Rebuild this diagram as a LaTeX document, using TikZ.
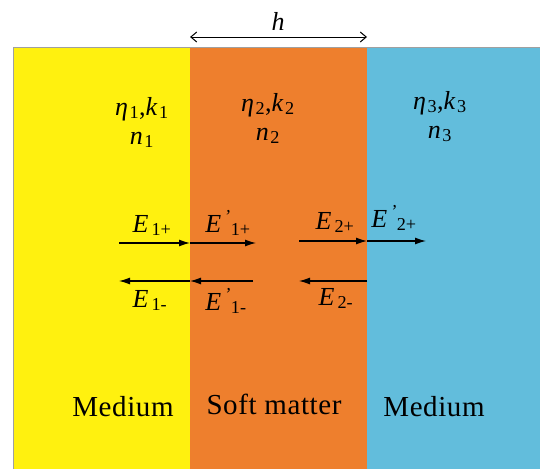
\documentclass[tikz,border=0pt]{standalone}
\usepackage{fontspec}
\setmainfont{Liberation Serif}
\newfontfamily\labelfont[LetterSpace=2]{Liberation Serif}
\usetikzlibrary{arrows.meta, positioning}
\definecolor{MediumYellow}{HTML}{FFF10F}
\definecolor{SoftOrange}{HTML}{EE7F2D}
\definecolor{MediumBlue}{HTML}{62BDDC}
\definecolor{EdgeGrey}{HTML}{A0A0A0}

\newcommand{\fld}[2]{\textit{E}#1\textsubscript{#2}}
\newcommand{\sbs}[1]{\kern1.5pt\textsubscript{#1}}

\begin{document}
\begin{tikzpicture}[x=1pt, y=-1pt, >={Latex[length=11pt,width=7pt]}]
    \tikzstyle{param} = [anchor=base, inner sep=0pt, align=center, font=\fontsize{26}{29}\selectfont]
    \tikzstyle{wavelabel} = [anchor=base, inner sep=0pt, font=\fontsize{26}{30}\selectfont]
    \tikzstyle{medlabel} = [anchor=base, inner sep=0pt, font=\fontsize{29}{32}\labelfont]
    \tikzstyle{ray} = [draw, ->, line width=1.2pt, black]

    \useasboundingbox (0,0) rectangle (540,469);

    % layers
    \fill [MediumYellow] (13,47) rectangle (190,469);
    \fill [SoftOrange] (190,47) rectangle (367,469);
    \fill [MediumBlue] (367,47) rectangle (540,469);
    \draw [EdgeGrey, line width=0.6pt] (13,469) -- (13,47) -- (540,47);

    % thickness
    \coordinate (hl) at (190,37);
    \coordinate (hr) at (367,37);
    \draw [{Straight Barb[length=6pt,width=10pt]}-{Straight Barb[length=6pt,width=10pt]}, line width=1pt] (hl) -- (hr);
    \node [param] (h) at (278,30) {\textit{h}};

    % parameters (base = second line)
    \node [param] (p1) at (142,144) {\textit{η}\sbs{1},\textit{k}\sbs{1}\\\textit{n}\sbs{1}};
    \node [param] (p2) at (268,140) {\textit{η}\sbs{2},\textit{k}\sbs{2}\\\textit{n}\sbs{2}};
    \node [param] (p3) at (440,138) {\textit{η}\sbs{3},\textit{k}\sbs{3}\\\textit{n}\sbs{3}};

    % waves
    \coordinate (a1) at (119,243);
    \coordinate (a2) at (190,243);
    \coordinate (a3) at (256,243);
    \coordinate (b1) at (299,241);
    \coordinate (b2) at (367,241);
    \coordinate (b3) at (426,241);
    \coordinate (c1) at (119,281);
    \coordinate (c2) at (190,281);
    \coordinate (c3) at (253,281);
    \coordinate (d1) at (299,281);
    \coordinate (d2) at (367,281);

    \path [ray] (a1) -- (a2);
    \path [ray] (a2) -- (a3);
    \path [ray] (b1) -- (b2);
    \path [ray] (b2) -- (b3);
    \path [ray] (c2) -- (c1);
    \path [ray] (c3) -- (c2);
    \path [ray] (d2) -- (d1);

    \node [wavelabel] (e1p) at (152,232) {\fld{}{\,1+}};
    \node [wavelabel] (f1p) at (228,232) {\fld{\textsuperscript{\,\textit{'}}}{1+}};
    \node [wavelabel] (e2p) at (335,229) {\fld{}{\,2+}};
    \node [wavelabel] (f2p) at (394,227) {\fld{\textsuperscript{\,\textit{'}}}{2+}};
    \node [wavelabel] (e1m) at (150,307) {\fld{}{\,1-}};
    \node [wavelabel] (f1m) at (226,310) {\fld{\textsuperscript{\,\textit{'}}}{1-}};
    \node [wavelabel] (e2m) at (336,305) {\fld{}{\,2-}};

    % media
    \node [medlabel] (med1) at (123,416) {Medium};
    \node [medlabel] (soft) at (274,414) {Soft matter};
    \node [medlabel] (med3) at (434,416) {Medium};
\end{tikzpicture}
\end{document}
